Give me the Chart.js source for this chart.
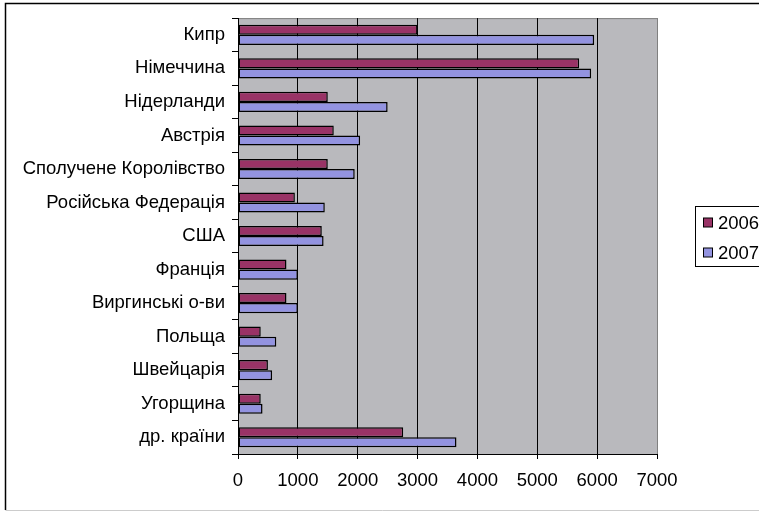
<!DOCTYPE html>
<html>
<head>
<meta charset="utf-8">
<script src="https://cdn.jsdelivr.net/npm/chart.js@4"></script>
<style>
    body { margin: 0; background: #ffffff; }
    #wrap { width: 759px; height: 512px; position: relative; }
</style>
</head>
<body>
<div id="wrap"><canvas id="investChart"></canvas></div>
<script>
// ===== DATA =====
const countries = [
    'Кипр', 'Німеччина', 'Нідерланди', 'Австрія', 'Сполучене Королівство',
    'Російська Федерація', 'США', 'Франція', 'Виргинські о-ви', 'Польща',
    'Швейцарія', 'Угорщина', 'др. країни'
];
const values2006 = [3000, 5700, 1500, 1600, 1500, 950, 1400, 810, 810, 380, 500, 380, 2760];
const values2007 = [5950, 5900, 2500, 2040, 1950, 1450, 1430, 1000, 1000, 640, 570, 410, 3650];
const seriesLabels = ['2006', '2007'];
const xTicks = [0, 1000, 2000, 3000, 4000, 5000, 6000, 7000];

const FONT = 'Liberation Sans, Arial, sans-serif';
const FONT_SIZE = 18.5;

// Plot area background + outer frame + legend box
const excelFrame = {
    id: 'excelFrame',
    beforeDraw(chart) {
        const { ctx, chartArea: a } = chart;
        ctx.save();
        ctx.fillStyle = '#b9b9bd';
        ctx.fillRect(a.left, a.top, a.right - a.left, a.bottom - a.top);
        ctx.strokeStyle = '#808080';
        ctx.lineWidth = 1;
        ctx.strokeRect(a.left + 0.5, a.top + 0.5, a.right - a.left, a.bottom - a.top);
        ctx.restore();
    },
    afterDraw(chart) {
        const { ctx } = chart;
        ctx.save();
        // outer chart border
        ctx.strokeStyle = '#000000';
        ctx.lineWidth = 1.5;
        ctx.beginPath();
        ctx.moveTo(770, 3.5);
        ctx.lineTo(5.5, 3.5);
        ctx.lineTo(5.5, 510);
        ctx.stroke();
        ctx.strokeStyle = '#cccccc';
        ctx.lineWidth = 1;
        ctx.beginPath();
        ctx.moveTo(5.5, 510.5);
        ctx.lineTo(770, 510.5);
        ctx.stroke();

        // legend
        ctx.strokeStyle = '#000000';
        ctx.lineWidth = 1;
        ctx.strokeRect(695.5, 206.5, 80, 60);
        ctx.font = FONT_SIZE + 'px ' + FONT;
        ctx.textBaseline = 'middle';
        chart.data.datasets.forEach((ds, i) => {
            const cy = 222.5 + i * 30;
            ctx.fillStyle = ds.backgroundColor;
            ctx.fillRect(703.5, cy - 4.5, 9, 9);
            ctx.strokeRect(703.5, cy - 4.5, 9, 9);
            ctx.fillStyle = '#000000';
            ctx.fillText(ds.label, 718, cy + 1);
        });
        ctx.restore();
    }
};

new Chart(document.getElementById('investChart'), {
    type: 'bar',
    data: {
        labels: countries,
        datasets: [{
            label: seriesLabels[0],
            data: values2006,
            backgroundColor: '#993366',
            borderColor: '#000000',
            borderWidth: 1.5,
            borderSkipped: false,
            categoryPercentage: 0.6,
            barPercentage: 1.0
        }, {
            label: seriesLabels[1],
            data: values2007,
            backgroundColor: '#9393e0',
            borderColor: '#000000',
            borderWidth: 1.5,
            borderSkipped: false,
            categoryPercentage: 0.6,
            barPercentage: 1.0
        }]
    },
    options: {
        indexAxis: 'y',
        responsive: true,
        maintainAspectRatio: false,
        animation: false,
        layout: {
            padding: { top: 17, right: 102, bottom: 0, left: 0 }
        },
        plugins: {
            legend: { display: false },
            tooltip: { enabled: false }
        },
        scales: {
            x: {
                min: 0,
                max: 7000,
                afterBuildTicks(scale) {
                    scale.ticks = xTicks.map(v => ({ value: v }));
                },
                afterFit(scale) { scale.height = 58; },
                grid: {
                    color: ctx => ctx.tick && ctx.tick.value === 7000 ? '#808080' : '#000000',
                    lineWidth: 1,
                    tickLength: 5,
                    tickColor: '#000000'
                },
                border: { color: '#000000', width: 1 },
                ticks: {
                    color: '#000000',
                    padding: 11,
                    maxRotation: 0,
                    callback: value => String(value),
                    font: { family: FONT, size: FONT_SIZE }
                }
            },
            y: {
                afterFit(scale) { scale.width = 238; },
                grid: {
                    drawOnChartArea: false,
                    offset: true,
                    tickLength: 6,
                    color: '#000000'
                },
                border: { color: '#000000', width: 1 },
                ticks: {
                    color: '#000000',
                    padding: 7,
                    autoSkip: false,
                    font: { family: FONT, size: FONT_SIZE }
                }
            }
        }
    },
    plugins: [excelFrame]
});
</script>
</body>
</html>
